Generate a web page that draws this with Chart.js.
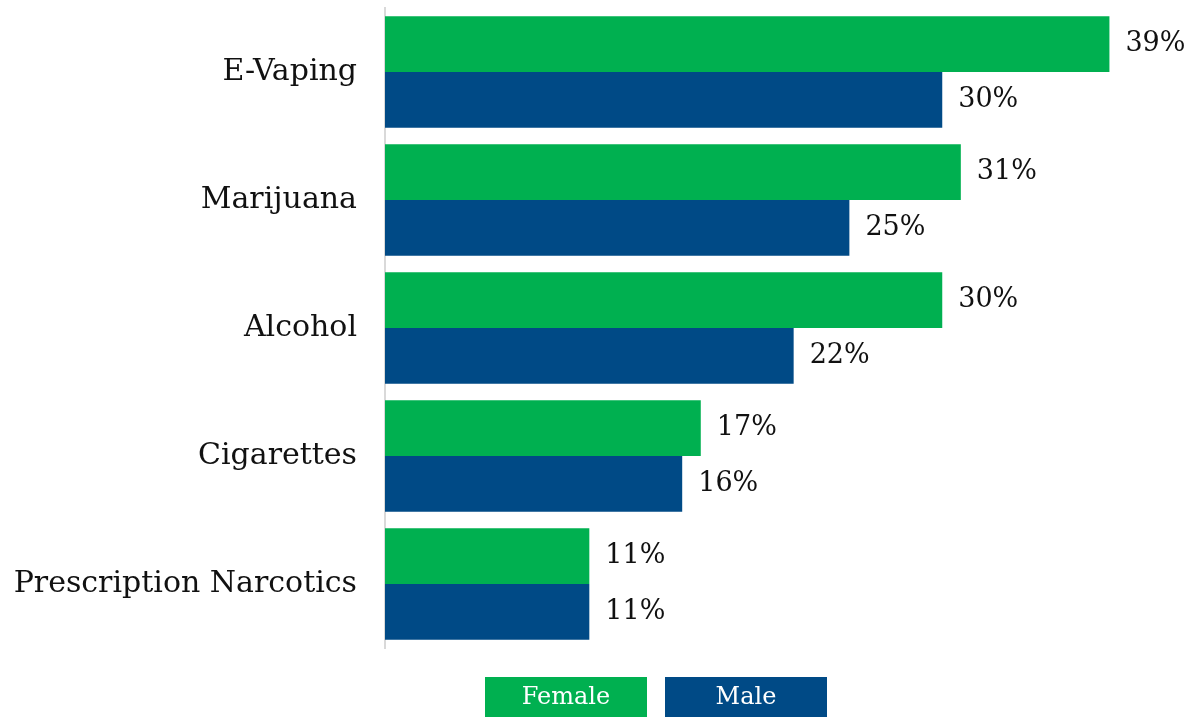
<!DOCTYPE html>
<html>
<head>
<meta charset="utf-8">
<style>
  html, body { margin: 0; padding: 0; background: #fff; }
  #wrap { width: 1188px; height: 717px; position: relative; }
</style>
<script src="https://cdn.jsdelivr.net/npm/chart.js@4/dist/chart.umd.min.js"></script>
</head>
<body>
<div id="wrap"><canvas id="c" width="1188" height="717"></canvas></div>
<script>
// Substance categories and share of students by gender (%)
const categories = ['E-Vaping', 'Marijuana', 'Alcohol', 'Cigarettes', 'Prescription Narcotics'];
const femaleValues = [39, 31, 30, 17, 11];
const maleValues = [30, 25, 22, 16, 11];
const seriesNames = ['Female', 'Male'];

const GREEN = '#00B050';
const BLUE = '#004A86';
const FONT = '"DejaVu Serif", "Liberation Serif", serif';

// Percentage labels at the end of each bar
const valueLabels = {
  id: 'valueLabels',
  afterDatasetsDraw(chart) {
    const ctx = chart.ctx;
    ctx.save();
    ctx.font = '27px ' + FONT;
    ctx.fillStyle = '#111';
    ctx.textAlign = 'left';
    ctx.textBaseline = 'middle';
    chart.data.datasets.forEach((ds, i) => {
      chart.getDatasetMeta(i).data.forEach((bar, j) => {
        ctx.fillText(ds.data[j] + '%', bar.x + 16, bar.y);
      });
    });
    ctx.restore();
  }
};

// Filled legend boxes with the series name inside
const boxLegend = {
  id: 'boxLegend',
  afterDraw(chart) {
    const ctx = chart.ctx;
    const w = 162, h = 40, gap = 18;
    const left = 485;
    const top = 677;
    ctx.save();
    ctx.font = '24px ' + FONT;
    ctx.textAlign = 'center';
    ctx.textBaseline = 'middle';
    chart.data.datasets.forEach((ds, i) => {
      const x = left + i * (w + gap);
      ctx.fillStyle = ds.backgroundColor;
      ctx.fillRect(x, top, w, h);
      ctx.fillStyle = '#fff';
      ctx.fillText(ds.label, x + w / 2, top + h / 2 + 1);
    });
    ctx.restore();
  }
};

new Chart(document.getElementById('c'), {
  type: 'bar',
  data: {
    labels: categories,
    datasets: [
      { label: seriesNames[0], data: femaleValues, backgroundColor: GREEN,
        categoryPercentage: 0.87, barPercentage: 1.0 },
      { label: seriesNames[1], data: maleValues, backgroundColor: BLUE,
        categoryPercentage: 0.87, barPercentage: 1.0 }
    ]
  },
  options: {
    indexAxis: 'y',
    responsive: false,
    animation: false,
    layout: { padding: { top: 8, right: 60, bottom: 69, left: 0 } },
    plugins: {
      legend: { display: false },
      tooltip: { enabled: false }
    },
    scales: {
      x: {
        min: 0, max: 40,
        display: false,
        grid: { display: false }
      },
      y: {
        afterFit(scale) {
          scale.width = 385;
          scale.paddingTop = 0;
          scale.paddingBottom = 0;
        },
        grid: { display: false, drawTicks: false },
        border: { display: true, color: '#D9D9D9', width: 2 },
        ticks: {
          color: '#111',
          padding: 28,
          font: { family: FONT, size: 30 }
        }
      }
    }
  },
  plugins: [valueLabels, boxLegend]
});
</script>
</body>
</html>
